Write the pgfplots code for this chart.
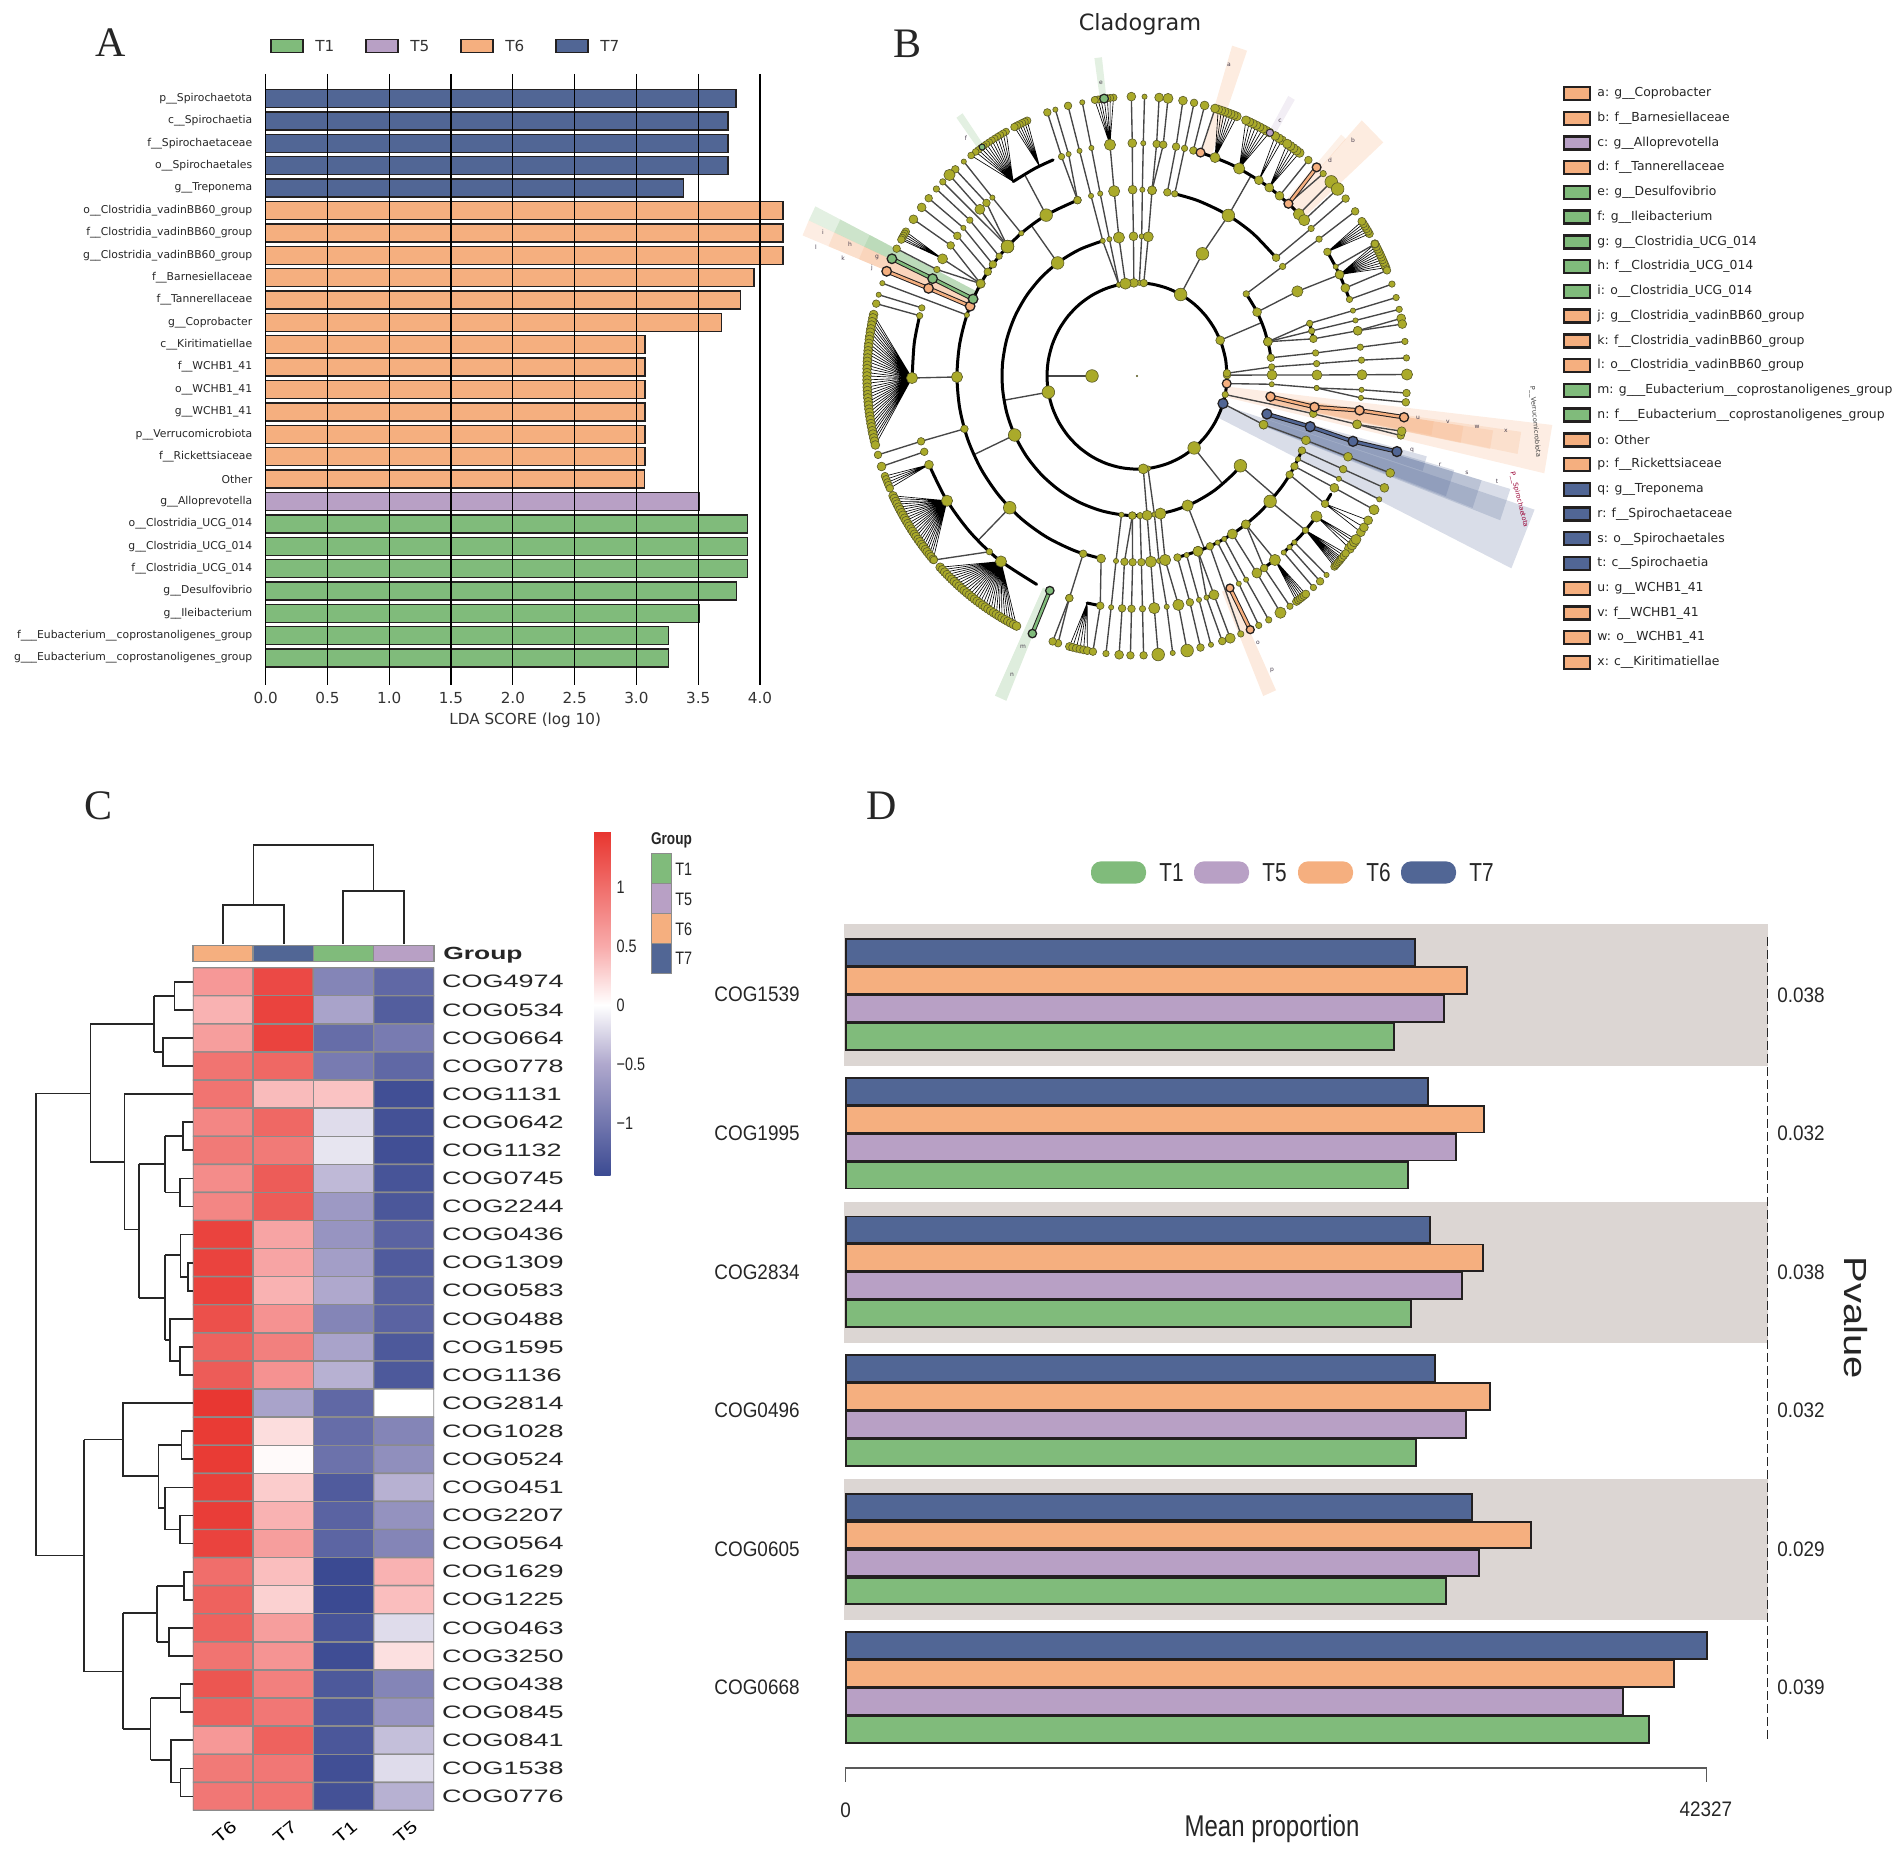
\documentclass[border=0pt]{standalone}
\usepackage{pgfplots}
\pgfplotsset{compat=1.18}
\usepackage{pgfplotstable}
\usepackage{fontspec}
\setmainfont{Liberation Sans}
\newfontfamily\djv{DejaVu Sans}
\newfontfamily\ser{Liberation Serif}
\newfontfamily\cnd[FakeStretch=0.9]{Liberation Sans}
\newfontfamily\nrw[FakeStretch=0.8]{Liberation Sans}
\newfontfamily\wid[FakeStretch=1.5]{Liberation Sans}
\newfontfamily\pvf[FakeStretch=1.25]{Liberation Sans}
\newcommand\fs[1]{\fontsize{#1}{#1}\selectfont}

\definecolor{tone}{RGB}{128,187,123}
\definecolor{tfive}{RGB}{184,160,197}
\definecolor{tsix}{RGB}{245,175,127}
\definecolor{tseven}{RGB}{81,102,149}
\definecolor{band}{RGB}{220,214,211}
\definecolor{oliv}{RGB}{170,170,42}
\definecolor{olivd}{RGB}{90,90,40}
\definecolor{edge}{RGB}{35,32,32}
\definecolor{cellb}{RGB}{140,140,140}

% the cladogram is read in polar form: angle, radius in pixels
\pgfplotsset{
/pgfplots/table/pol/.style={/pgfplots/table/header=false,/pgfplots/table/row sep=\\},
nodemark/.style={only marks,mark=*,mark options={fill=oliv,draw=olivd,line width=0.3pt}},
}
% one fan: parent angle, leaf mark size, leaf angles
\newcommand\fan[3]{%
\gdef\fanrows{}\gdef\fanleaf{}%
\foreach \lf in {#3}{%
 \xdef\fanrows{\unexpanded\expandafter{\fanrows}#1 225\noexpand\\\lf\space 270\noexpand\\}%
 \xdef\fanleaf{\unexpanded\expandafter{\fanleaf}\lf\space 270\noexpand\\}}%
\edef\fantmp{\noexpand\addplot[draw=black,line width=0.32pt] table[pol]{\unexpanded\expandafter{\fanrows}};}\fantmp
\edef\fantmp{\noexpand\addplot[nodemark,mark size=#2pt] table[pol]{\unexpanded\expandafter{\fanleaf}};}\fantmp
}
\newcommand\wdg[6][0.22]{
\addplot[fill=#2,fill opacity=#1,draw=none] table[pol]{#3 #5\\#3 #6\\#4 #6\\#4 #5\\} -- cycle;
}
\newcommand\rim[1]{\addplot[draw=black,line width=1.5pt,smooth,line cap=round] table[pol]{#1};}
\newcommand\dl[1]{\addplot[draw=black!85,line width=0.85pt] coordinates {#1};}
% highlighted branch: colour, mark size, rows
\newcommand\hl[3]{
\addplot[draw=edge,line width=2.2pt] table[pol]{#3};
\addplot[draw=#1,line width=1.2pt] table[pol]{#3};
\addplot[only marks,mark=*,mark size=#2pt,mark options={fill=#1,draw=edge,line width=0.65pt}] table[pol]{#3};
}

% the tree: each \ch is one branch, angle radius marksize
\newcommand\chains{
\ch{85.7 90 2.0\\85.2 135 2.5\\85.2 180 2.3\\85 225 2.0\\85.3 270 2.3\\}
\ch{85.2 180 2.3\\83.3 225 2.0\\83.4 270 2.4\\}
\ch{88.5 90 1.4\\88 135 1.3\\88.3 180 1.3\\88.4 225 1.3\\88.4 270 1.4\\}
\ch{92 90 2.3\\91.5 135 2.3\\91.4 180 2.3\\91.2 225 2.3\\91.2 270 2.3\\}
\ch{94 90 1.5\\}
\ch{97.4 90 2.8\\97.7 135 2.8\\97.3 180 2.8\\96.9 225 2.8\\}
\ch{101.6 90 1.3\\101.8 135 1.4\\101.8 180 1.4\\101.7 225 1.3\\101.7 270 1.4\\}
\ch{101.6 90 1.3\\104.7 135 1.3\\104.8 180 1.4\\104.8 225 1.3\\104.8 270 1.9\\}
\ch{109.3 180 1.8\\109.6 225 1.6\\109.4 270 1.9\\}
\ch{109.3 180 1.8\\107.7 225 1.3\\107.6 270 1.4\\}
\ch{126 135 3.0\\126 180 0\\}
\ch{120.3 180 3.0\\120 225 0\\}
\ch{130 180 1.3\\130 225 1.4\\129.9 270 1.4\\}
\ch{136 180 3.0\\134.3 225 2.4\\134 270 2.7\\}
\ch{136 180 3.0\\132 225 2.0\\132.3 270 2.0\\}
\ch{136 180 3.0\\136 270 1.7\\}
\ch{140 180 1.7\\138 225 1.7\\138 270 1.7\\}
\ch{143.2 180 1.9\\140.5 225 1.4\\140.5 270 1.8\\}
\ch{146 180 1.9\\143 225 2.0\\142.9 270 2.2\\}
\ch{150.3 180 2.3\\145.9 225 1.9\\145.9 270 2.2\\}
\ch{150.3 180 2.3\\149.8 225 2.5\\}
\ch{150.3 180 2.3\\152.8 225 1.5\\152.9 270 1.8\\}
\ch{160.9 180 1.3\\160.6 270 1.4\\}
\ch{165 225 1.5\\165 270 1.9\\}
\ch{163 225 1.5\\163.1 270 1.4\\}
\ch{180 45 3.3\\180 90 0\\}
\ch{90 0 0.35\\}
\ch{190 90 3.1\\190 135 0\\}
\ch{180.3 180 2.9\\180.5 225 2.7\\}
\ch{205 135 3.1\\205 180 0\\}
\ch{225 180 3.1\\225 225 0\\}
\ch{196.5 180 1.9\\196.3 225 1.9\\196.4 270 1.9\\}
\ch{199 225 2.0\\198.9 270 2.1\\}
\ch{202.4 225 2.1\\}
\ch{212.4 225 2.8\\}
\ch{229 225 1.6\\221.2 270 1.9\\}
\ch{232.8 225 2.8\\}
\ch{252.6 180 1.8\\252.5 225 2.0\\253 270 2.0\\}
\ch{252.5 225 2.0\\251.8 270 2.0\\}
\ch{258.5 180 2.2\\260.6 225 2.0\\260.6 270 2.0\\}
\ch{263.4 135 1.3\\263.3 180 1.3\\263.4 225 1.3\\263.4 270 1.7\\}
\ch{268 135 2.0\\266 180 2.0\\266.2 225 2.0\\266.2 270 2.3\\}
\ch{268 135 2.0\\268.6 180 1.8\\268.6 225 1.8\\268.6 270 2.0\\}
\ch{271.3 135 1.5\\271.4 180 1.8\\271.4 225 1.6\\271.4 270 2.0\\}
\ch{274 90 2.4\\274.3 135 2.6\\274.4 180 2.8\\274.4 225 2.8\\274.5 270 3.1\\}
\ch{277 90 1.4\\277.4 135 1.3\\277 180 1.3\\277.6 225 1.3\\277.6 270 1.4\\}
\ch{280 135 2.8\\279 180 2.8\\280.6 225 2.8\\280.7 270 3.1\\}
\ch{283 180 1.8\\283.6 225 1.8\\283.6 270 2.0\\}
\ch{286 180 1.3\\286 225 1.3\\285.9 270 1.4\\}
\ch{289.8 180 2.4\\288 225 1.4\\288.4 270 1.9\\}
\ch{289.8 180 2.4\\290 225 2.4\\290.2 270 2.6\\}
\ch{293.9 180 2.0\\292.6 270 1.7\\}
\ch{296.6 180 1.4\\296.9 225 1.3\\296.8 270 1.6\\}
\ch{299 180 1.4\\299 225 1.3\\299.2 270 1.6\\}
\ch{302 180 2.4\\302.2 225 2.6\\302.1 270 2.7\\}
\ch{307.2 180 2.2\\304.4 225 1.8\\304.5 270 1.7\\}
\ch{307.2 180 2.2\\307.8 225 2.7\\}
\ch{310.7 225 1.3\\310.8 270 1.5\\}
\ch{312.7 225 1.4\\312.7 270 2.0\\}
\ch{314.4 225 1.3\\314.6 270 1.4\\}
\ch{292 135 2.8\\292 180 0\\}
\ch{309.4 90 3.1\\309.4 135 0\\}
\ch{320 135 3.1\\320 180 0\\}
\ch{317.7 180 3.0\\318.5 225 1.5\\}
\ch{322.9 225 2.8\\}
\ch{328 180 2.0\\326.7 225 2.0\\}
\ch{331 180 1.9\\331.3 225 2.1\\331.4 270 2.4\\}
\ch{333.5 180 1.3\\333.8 225 1.3\\333.8 270 1.4\\}
\ch{336.4 180 2.0\\336.4 225 2.0\\336.4 270 2.3\\}
\ch{339.6 135 2.1\\339.8 180 2.2\\339.7 225 2.2\\339.7 270 2.3\\}
\ch{342.8 90 0\\339.6 135 2.1\\}
\ch{348.5 90 1.5\\348.5 135 0\\348.3 180 2.0\\348 225 2.1\\348.6 270 2.2\\}
\ch{348 225 2.1\\347.7 270 1.8\\}
\ch{355.3 90 0\\356.6 135 1.3\\356.3 180 1.3\\356.6 225 1.3\\356.5 270 1.8\\}
\ch{356.3 180 1.3\\354.6 225 1.3\\354.6 270 1.8\\}
\ch{0.5 90 2.0\\0.4 135 2.4\\0.3 180 2.4\\0.3 225 2.4\\0.3 270 2.8\\}
\ch{1.7 90 2.0\\3.7 135 1.7\\3.8 180 1.6\\3.9 225 1.6\\3.7 270 1.7\\}
\ch{7.5 135 1.8\\7.1 180 1.5\\7.1 225 1.6\\7.1 270 1.7\\}
\ch{14.2 135 2.2\\16.4 180 1.5\\16.3 225 1.4\\16.3 270 1.6\\}
\ch{14.2 135 2.2\\14 180 1.5\\13.8 225 1.4\\13.8 270 1.6\\}
\ch{14.2 135 2.2\\11.5 180 2.0\\11.2 225 2.2\\11.9 270 2.3\\}
\ch{11.2 225 2.2\\10.7 270 2.3\\}
\ch{22.5 90 2.3\\22.5 135 0\\}
\ch{27.2 135 2.3\\27 180 2.7\\25.8 225 2.2\\}
\ch{36 135 1.5\\36 180 1.5\\36 225 1.5\\36.1 270 1.8\\}
\ch{39.4 180 1.8\\39.3 225 1.5\\39.4 270 1.9\\}
\ch{61 90 3.2\\61 135 3.2\\59.5 180 3.1\\59.5 225 0\\}
\ch{80.3 180 1.9\\80 225 1.9\\80.2 270 2.1\\}
\ch{77.9 180 1.6\\77.8 225 1.6\\77.8 270 1.8\\}
\ch{75.5 225 1.8\\75.5 270 2.2\\}
\ch{73.6 225 2.0\\73.2 270 2.2\\}
\ch{69.7 225 2.6\\}
\ch{63 225 2.7\\}
\ch{57.2 225 2.3\\}
\ch{54 225 2.3\\}
\ch{50.7 225 2.1\\50.6 270 2.0\\}
\ch{47.7 225 2.2\\46.4 270 1.5\\}
\ch{44 225 2.8\\44 270 3.0\\}
\ch{42 225 2.8\\42 270 3.1\\}
\ch{32.2 225 1.9\\}
\ch{28 225 1.4\\28.2 270 1.8\\}
\ch{25.8 225 2.1\\}
\ch{22.2 225 2.1\\22.2 270 1.8\\}
\ch{19.2 225 1.5\\19.2 270 1.7\\}
}
% sort the rows of the branches into lists by mark size
\def\addrow#1#2{\expandafter\addrowb\csname rows#1\endcsname{#2}}
\def\addrowb#1#2{\xdef#1{\unexpanded\expandafter{#1}#2\noexpand\\}}
\def\classify#1#2{%
 \ifdim#1pt<0.2pt \else\ifdim#1pt<0.9pt \addrow{a}{#2}\else\ifdim#1pt<1.45pt \addrow{b}{#2}\else
 \ifdim#1pt<1.75pt \addrow{c}{#2}\else\ifdim#1pt<2.05pt \addrow{d}{#2}\else\ifdim#1pt<2.35pt \addrow{e}{#2}\else
 \ifdim#1pt<2.65pt \addrow{f}{#2}\else\ifdim#1pt<2.95pt \addrow{g}{#2}\else \addrow{h}{#2}\fi\fi\fi\fi\fi\fi\fi\fi}
\def\rowscan#1 #2 #3\\#4\end{\classify{#3}{#1 #2}\if\relax\detokenize{#4}\relax\else\rowscan#4\end\fi}
\gdef\rowsa{}\gdef\rowsb{}\gdef\rowsc{}\gdef\rowsd{}\gdef\rowse{}\gdef\rowsf{}\gdef\rowsg{}\gdef\rowsh{}
\def\ch#1{\rowscan#1\end}
\chains
\def\nodeset#1#2{\expandafter\nodesetb\csname rows#1\endcsname{#2}}
\def\nodesetb#1#2{\edef\nodetmp{\noexpand\addplot[nodemark,mark size=#2pt] table[pol]{\unexpanded\expandafter{#1}};}\nodetmp}

\begin{document}
\begin{tikzpicture}
\path[use as bounding box] (0,0) rectangle (951pt,927.5pt);

% ---------- A: LDA bars
\begin{axis}[
  at={(132.85pt,585pt)},anchor=south west,scale only axis,
  width=259.5pt,height=305.5pt,
  xmin=0,xmax=4.2,ymin=-1.1,ymax=26.2,y dir=reverse,
  axis on top,axis line style={draw=none},
  xtick={0,0.5,1,1.5,2,2.5,3,3.5,4},
  xticklabels={0.0,0.5,1.0,1.5,2.0,2.5,3.0,3.5,4.0},
  xmajorgrids,grid style={draw=black,line width=0.65pt},
  major tick length=0pt,
  xticklabel style={font=\djv\fs{7.6},text=black!80},xtick pos=bottom,
  xlabel={LDA SCORE (log 10)},xlabel style={font=\djv\fs{7.6},text=black!80,yshift=2pt},
  ytick={0,...,25},ytick pos=left,
  yticklabels={p\_\_Spirochaetota,c\_\_Spirochaetia,f\_\_Spirochaetaceae,o\_\_Spirochaetales,g\_\_Treponema,
   o\_\_Clostridia\_vadinBB60\_group,f\_\_Clostridia\_vadinBB60\_group,g\_\_Clostridia\_vadinBB60\_group,
   f\_\_Barnesiellaceae,f\_\_Tannerellaceae,g\_\_Coprobacter,c\_\_Kiritimatiellae,f\_\_WCHB1\_41,o\_\_WCHB1\_41,g\_\_WCHB1\_41,
   p\_\_Verrucomicrobiota,f\_\_Rickettsiaceae,Other,g\_\_Alloprevotella,o\_\_Clostridia\_UCG\_014,g\_\_Clostridia\_UCG\_014,
   f\_\_Clostridia\_UCG\_014,g\_\_Desulfovibrio,g\_\_Ileibacterium,f\_\_\_Eubacterium\_\_coprostanoligenes\_group,g\_\_\_Eubacterium\_\_coprostanoligenes\_group},
  yticklabel style={font=\djv\fs{5.4},text=black!85},
  yticklabel shift=3.2pt,
]
\addplot[xbar,bar width=9pt,bar shift=0pt,fill=tseven,draw=edge,line width=0.7pt] coordinates {
 (3.805,0)(3.74,1)(3.74,2)(3.74,3)(3.38,4)};
\addplot[xbar,bar width=9pt,bar shift=0pt,fill=tsix,draw=edge,line width=0.7pt] coordinates {
 (4.186,5)(4.186,6)(4.186,7)(3.95,8)(3.84,9)(3.69,10)(3.07,11)(3.07,12)(3.07,13)(3.07,14)(3.07,15)(3.07,16)(3.065,17)};
\addplot[xbar,bar width=9pt,bar shift=0pt,fill=tfive,draw=edge,line width=0.7pt] coordinates {(3.51,18)};
\addplot[xbar,bar width=9pt,bar shift=0pt,fill=tone,draw=edge,line width=0.7pt] coordinates {
 (3.90,19)(3.90,20)(3.90,21)(3.81,22)(3.51,23)(3.26,24)(3.26,25)};
\end{axis}

% ---------- B: cladogram (1 data unit = 1 px across, 1.035 px down: the reference is stretched)
\begin{axis}[
  at={(400pt,577.5pt)},anchor=south west,scale only axis,width=380pt,height=330pt,
  xmin=-337,xmax=423,ymin=-313.04,ymax=324.64,hide axis,clip=false,
  xtick=\empty,ytick=\empty,data cs=polar,
]
% shaded clades
\wdg{tsix}{347}{353.5}{90}{418}
\wdg{tsix}{348.8}{352}{135}{388}
\wdg{tsix}{348.7}{351.6}{135}{360}
\wdg{tsix}{348.7}{351.6}{135}{330}
\wdg{tsix}{349}{351.6}{135}{300}
\wdg{tseven}{333.6}{342}{90}{418}
\wdg{tseven}{339}{343.7}{135}{389}
\wdg{tseven}{339.2}{343.7}{135}{359}
\wdg{tseven}{339.4}{344}{135}{330}
\wdg{tseven}{342.2}{345}{135}{300}
\wdg{tone}{153}{155.4}{180}{361}
\wdg{tone}{153}{155.4}{180}{333}
\wdg{tone}{153}{155.4}{180}{300}
\wdg{tsix}{155.4}{157.9}{180}{361}
\wdg{tsix}{155.4}{157.9}{180}{333}
\wdg{tsix}{155.4}{157.9}{180}{300}
\wdg[0.22]{tone}{96.5}{97.9}{270}{310}
\wdg[0.22]{tone}{124.5}{125.9}{270}{308}
\wdg[0.24]{tsix}{70.7}{73.4}{225}{333}
\wdg[0.18]{tfive}{59.4}{60.8}{270}{310}
\wdg[0.24]{tsix}{42.5}{47.7}{225}{334}
\wdg[0.18]{tsix}{47.6}{48.8}{225}{310}
\wdg[0.26]{tsix}{292.2}{294.6}{225}{334}
\wdg[0.26]{tone}{245.3}{247.4}{225}{340}
% thin branches
\def\ch#1{\addplot[draw=black!72,line width=0.68pt] table[pol]{#1};}
\chains
% thick arcs
\rim{0 90\\10 90\\20 90\\30 90\\40 90\\50 90\\60 90\\70 90\\80 90\\90 90\\100 90\\110 90\\120 90\\130 90\\140 90\\150 90\\160 90\\170 90\\180 90\\190 90\\200 90\\210 90\\220 90\\230 90\\240 90\\250 90\\260 90\\270 90\\280 90\\290 90\\300 90\\310 90\\320 90\\330 90\\340 90\\350 90\\360 90\\}
\rim{104.7 135\\115 135\\125 135\\135 135\\145 135\\155 135\\165 135\\175 135\\185 135\\195 135\\205 135\\215 135\\225 135\\235 135\\245 135\\255 135\\265 135\\275 135\\285 135\\295 135\\305 135\\315 135\\320 135\\}
\rim{36 135\\28 135\\20 135\\12 135\\7.5 135\\}
\rim{109.3 180\\120 180\\130 180\\140 180\\150 180\\160 180\\170 180\\180 180\\190 180\\200 180\\210 180\\220 180\\230 180\\240 180\\250 180\\258.5 180\\}
\rim{39.4 180\\50 180\\60 180\\70 180\\77.9 180\\}
\rim{16.4 180\\11.5 180\\}
\rim{283 180\\293 180\\303 180\\313 180\\323 180\\330 180\\337 180\\}
\rim{73.6 225\\65 225\\55 225\\47 225\\42 225\\}
\rim{32.2 225\\26 225\\19.2 225\\}
\rim{123.4 225\\117 225\\111.9 225\\}
\rim{165 225\\172 225\\181 225\\}
\rim{202.4 225\\212 225\\222 225\\232 225\\243.5 225\\}
\rim{257.2 225\\260.6 225\\}
\rim{288 225\\290 225\\}
\rim{302 225\\308 225\\}
\rim{310.7 225\\317 225\\323 225\\}
\rim{326.7 225\\329.5 225\\}
% fans of leaves
\fan{180.5}{2.2}{167.3,168,168.8,169.5,170.3,171,171.8,172.5,173.3,174,174.8,175.5,176.3,177,177.8,178.5,179.3,180,180.8,181.5,182.3,183,183.8,184.5,185.3,186,186.8,187.5,188.3,189,189.8,190.5,191.3,192,192.8,193.5,194.3}
\fan{212.4}{2.2}{205.4,206,206.7,207.3,208,208.6,209.3,209.9,210.6,211.2,211.9,212.5,213.2,213.8,214.5,215.1,215.8,216.4,217.1,217.7,218.4,219,219.7,220.3,221}
\fan{232.8}{2.2}{223.2,223.9,224.6,225.3,226,226.7,227.4,228.1,228.8,229.5,230.2,230.9,231.6,232.3,233,233.7,234.4,235.1,235.8,236.5,237.2,237.9,238.6,239.3,240,240.7,241.4,242.1,242.8,243.5}
\fan{202.4}{1.9}{201,201.7,202.4,203,203.7}
\fan{123.4}{1.7}{119,119.7,120.4,121.1,121.8,122.5,123.2,123.9,124.6,125.3,126,126.7,127.9}
\fan{115.7}{1.9}{114,114.6,115.2,115.8,116.4,117}
\fan{149.8}{1.9}{148.9,149.4,149.9,150.4,150.8}
\fan{96.9}{1.8}{95,95.7,96.3,97,97.7,98.3,99}
\fan{69.7}{2.2}{68.3,69,69.7,70.4,71.1,71.8,72.5}
\fan{63}{2.2}{60.6,61.4,62.2,63,63.8,64.6,65.4,66.2}
\fan{57.2}{2.2}{57.5,58.3,59.2}
\fan{54}{2.3}{53,53.8,54.6,55.4,56.2}
\fan{32.2}{2}{30.6,31.2,31.8,32.4,33,33.6}
\fan{25.8}{2.1}{22.8,23.4,24,24.6,25.2,25.8,26.4,27,27.6,28.2}
\fan{326.7}{2.2}{326,327.2,328.9}
\fan{322.9}{2.5}{321.9,322.8,323.6,324.2}
\fan{318.5}{1.9}{317,317.4,317.8,318.2,318.6,319,319.4,320,320.6}
\fan{307.8}{2}{306.2,306.7,307.2,307.7,308.2,308.7}
\fan{257.2}{2}{255.5,256.2,257,257.8,258.6,259.4}
% nodes of the tree, by size class
\nodeset{a}{0.35}
\nodeset{b}{1.3}
\nodeset{c}{1.6}
\nodeset{d}{1.9}
\nodeset{e}{2.2}
\nodeset{f}{2.5}
\nodeset{g}{2.8}
\nodeset{h}{3.15}
% clades that differ
\hl{tsix}{2.4}{158 180\\157.9 225\\158 270\\}
\hl{tone}{2.4}{155.6 180\\155.3 225\\155.2 270\\}
\hl{tsix}{2.3}{351.5 135\\350.4 180\\351.5 225\\351.5 270\\}
\hl{tseven}{2.5}{344.2 135\\344.2 180\\343.7 225\\344.3 270\\}
\hl{tsix}{2.2}{47.7 225\\48.3 270\\}
\hl{tone}{2.1}{247.2 225\\247.2 270\\}
\hl{tsix}{2.0}{294.4 225\\294.8 270\\}
\addplot[only marks,mark=*,mark size=2.2pt,mark options={fill=tsix,draw=edge,line width=0.6pt}] table[pol] {355.3 90\\73.6 225\\};
\addplot[only marks,mark=*,mark size=2.5pt,mark options={fill=tseven,draw=edge,line width=0.6pt}] table[pol] {342.8 90\\};
\addplot[only marks,mark=*,mark size=2.2pt,mark options={fill=tone,draw=edge,line width=0.6pt}] table[pol] {97 270\\};
\addplot[only marks,mark=*,mark size=1.5pt,mark options={fill=tone,draw=edge,line width=0.5pt}] table[pol] {125 270\\};
\addplot[only marks,mark=*,mark size=1.8pt,mark options={fill=tfive,draw=edge,line width=0.4pt}] table[pol] {60.5 270\\};
\end{axis}

% ---------- C: heatmap
\begin{axis}[
  at={(96.4pt,22.3pt)},anchor=south west,scale only axis,width=120.6pt,height=421.35pt,
  xmin=-0.5,xmax=3.5,ymin=-0.5,ymax=29.5,y dir=reverse,
  axis line style={draw=none},major tick length=0pt,
  colormap={hm}{rgb255(0cm)=(59,74,146);rgb255(0.95cm)=(175,168,205);rgb255(1.45cm)=(255,255,255);rgb255(1.95cm)=(248,170,170);rgb255(2.92cm)=(232,53,47)},
  point meta min=-1.45,point meta max=1.47,
  xtick={0,1,2,3},xticklabels={T6,T7,T1,T5},xtick pos=bottom,
  xticklabel style={font=\pvf\fs{8.5},rotate=40,anchor=center,xshift=-6.5pt,yshift=-9pt},
  ytick={0,...,29},yticklabel pos=right,
  yticklabels={COG4974,COG0534,COG0664,COG0778,COG1131,COG0642,COG1132,COG0745,COG2244,COG0436,COG1309,COG0583,COG0488,COG1595,COG1136,COG2814,COG1028,COG0524,COG0451,COG2207,COG0564,COG1629,COG1225,COG0463,COG3250,COG0438,COG0845,COG0841,COG1538,COG0776},
  yticklabel style={font=\wid\fs{9},text=black!85,anchor=west,xshift=0.5pt},
  colorbar,
  colorbar style={at={(1.666,1.1615)},anchor=north west,width=8pt,height=172.2pt,
    axis line style={draw=none},major tick length=0pt,
    ytick={-1,-0.5,0,0.5,1},yticklabels={−1,−0.5,0,0.5,1},yticklabel pos=right,
    yticklabel style={font=\nrw\fs{9},text=black!85,xshift=-0.5pt}},
]
\addplot[matrix plot*,mesh/cols=4,point meta=explicit,draw=cellb,line width=0.7pt] coordinates {
(0,0)[0.65](1,0)[1.3](2,0)[-0.85](3,0)[-1.15]
(0,1)[0.45](1,1)[1.35](2,1)[-0.55](3,1)[-1.25]
(0,2)[0.6](1,2)[1.35](2,2)[-1.1](3,2)[-0.95]
(0,3)[0.95](1,3)[1.05](2,3)[-0.95](3,3)[-1.15]
(0,4)[0.95](1,4)[0.4](2,4)[0.35](3,4)[-1.4]
(0,5)[0.8](1,5)[1.05](2,5)[-0.2](3,5)[-1.38]
(0,6)[0.9](1,6)[0.9](2,6)[-0.15](3,6)[-1.4]
(0,7)[0.75](1,7)[1.15](2,7)[-0.4](3,7)[-1.35]
(0,8)[0.8](1,8)[1.15](2,8)[-0.65](3,8)[-1.32]
(0,9)[1.35](1,9)[0.55](2,9)[-0.7](3,9)[-1.2]
(0,10)[1.35](1,10)[0.55](2,10)[-0.6](3,10)[-1.28]
(0,11)[1.35](1,11)[0.45](2,11)[-0.5](3,11)[-1.22]
(0,12)[1.25](1,12)[0.7](2,12)[-0.85](3,12)[-1.2]
(0,13)[1.1](1,13)[0.85](2,13)[-0.55](3,13)[-1.3]
(0,14)[1.15](1,14)[0.7](2,14)[-0.45](3,14)[-1.3]
(0,15)[1.45](1,15)[-0.55](2,15)[-1.15](3,15)[0]
(0,16)[1.42](1,16)[0.2](2,16)[-1.1](3,16)[-0.85]
(0,17)[1.42](1,17)[0.03](2,17)[-1.05](3,17)[-0.75]
(0,18)[1.38](1,18)[0.3](2,18)[-1.28](3,18)[-0.45]
(0,19)[1.4](1,19)[0.45](2,19)[-1.2](3,19)[-0.72]
(0,20)[1.35](1,20)[0.6](2,20)[-1.18](3,20)[-0.85]
(0,21)[1.0](1,21)[0.38](2,21)[-1.45](3,21)[0.45]
(0,22)[1.1](1,22)[0.27](2,22)[-1.45](3,22)[0.38]
(0,23)[1.1](1,23)[0.6](2,23)[-1.35](3,23)[-0.2]
(0,24)[0.95](1,24)[0.68](2,24)[-1.42](3,24)[0.18]
(0,25)[1.2](1,25)[0.85](2,25)[-1.3](3,25)[-0.85]
(0,26)[1.1](1,26)[0.92](2,26)[-1.3](3,26)[-0.7]
(0,27)[0.65](1,27)[1.1](2,27)[-1.32](3,27)[-0.37]
(0,28)[0.9](1,28)[0.92](2,28)[-1.4](3,28)[-0.2]
(0,29)[0.92](1,29)[0.95](2,29)[-1.38](3,29)[-0.45]
};
\end{axis}

% ---------- D: mean proportion
\begin{axis}[
  at={(422.8pt,56.65pt)},anchor=south west,scale only axis,width=461.15pt,height=409.85pt,
  xmin=0,xmax=45340,ymin=-0.39,ymax=5.524,clip=false,
  axis line style={draw=none},major tick length=0pt,xtick=\empty,
  ytick={0,...,5},ytick pos=left,
  yticklabels={COG0668,COG0605,COG0496,COG2834,COG1995,COG1539},
  yticklabel style={font=\cnd\fs{10.5},text=black!85},yticklabel shift=19.5pt,
]
\addplot[fill=band,draw=none] coordinates {(-60,5.513)(45340,5.513)(45340,4.488)(-60,4.488)} -- cycle;
\addplot[fill=band,draw=none] coordinates {(-60,3.506)(45340,3.506)(45340,2.489)(-60,2.489)} -- cycle;
\addplot[fill=band,draw=none] coordinates {(-60,1.507)(45340,1.507)(45340,0.49)(-60,0.49)} -- cycle;
\addplot[xbar,bar width=13.3pt,bar shift=21pt,fill=tseven,draw=edge,line width=0.9pt] coordinates {
 (28004,5)(28644,4)(28720,3)(28984,2)(30793,1)(42327,0)};
\addplot[xbar,bar width=13.3pt,bar shift=7pt,fill=tsix,draw=edge,line width=0.9pt] coordinates {
 (30529,5)(31396,4)(31320,3)(31697,2)(33695,1)(40705,0)};
\addplot[xbar,bar width=13.3pt,bar shift=-7pt,fill=tfive,draw=edge,line width=0.9pt] coordinates {
 (29398,5)(30001,4)(30303,3)(30491,2)(31132,1)(38218,0)};
\addplot[xbar,bar width=13.3pt,bar shift=-21pt,fill=tone,draw=edge,line width=0.9pt] coordinates {
 (26949,5)(27664,4)(27778,3)(28041,2)(29511,1)(39499,0)};
\addplot[draw=black!85,line width=0.55pt,dash pattern=on 4.5pt off 2pt] coordinates {(45340,5.416)(45340,-0.39)};
\end{axis}

% ---------- dendrograms, group strip and the scale of D, in picture pixels
\begin{axis}[
  at={(0pt,0pt)},anchor=south west,scale only axis,width=951pt,height=927.5pt,
  xmin=0,xmax=1902,ymin=0,ymax=1855,y dir=reverse,hide axis,clip=false,
  xtick=\empty,ytick=\empty,
]
% group strip
\addplot[fill=tsix,draw=cellb,line width=0.7pt] coordinates {(192.8,945.3)(253.1,945.3)(253.1,961.8)(192.8,961.8)} -- cycle;
\addplot[fill=tseven,draw=cellb,line width=0.7pt] coordinates {(253.1,945.3)(313.4,945.3)(313.4,961.8)(253.1,961.8)} -- cycle;
\addplot[fill=tone,draw=cellb,line width=0.7pt] coordinates {(313.4,945.3)(373.7,945.3)(373.7,961.8)(313.4,961.8)} -- cycle;
\addplot[fill=tfive,draw=cellb,line width=0.7pt] coordinates {(373.7,945.3)(434,945.3)(434,961.8)(373.7,961.8)} -- cycle;
% group key
\addplot[fill=tone,draw=cellb,line width=0.5pt] coordinates {(651,854)(671,854)(671,884)(651,884)} -- cycle;
\addplot[fill=tfive,draw=cellb,line width=0.5pt] coordinates {(651,884)(671,884)(671,914)(651,914)} -- cycle;
\addplot[fill=tsix,draw=cellb,line width=0.5pt] coordinates {(651,914)(671,914)(671,944)(651,944)} -- cycle;
\addplot[fill=tseven,draw=cellb,line width=0.5pt] coordinates {(651,944)(671,944)(671,973.5)(651,973.5)} -- cycle;
% column tree
\dl{(223,943.9)(223,904.7)(283.8,904.7)(283.8,943.9)}
\dl{(343,943.9)(343,890.9)(404,890.9)(404,943.9)}
\dl{(253.4,904.7)(253.4,844.7)(373.5,844.7)(373.5,890.9)}
% row tree
\dl{(90.4,1023.8)(90.4,1162)} \dl{(90.4,1093.4)(35.8,1093.4)(35.8,1555.5)(84,1555.5)}
\dl{(90.4,1023.8)(153.8,1023.8)} \dl{(153.8,995.8)(153.8,1052)}
\dl{(153.8,995.8)(174.5,995.8)} \dl{(193,981.7)(174.5,981.7)(174.5,1009.8)(193,1009.8)}
\dl{(153.8,1052)(163,1052)} \dl{(193,1037.9)(163,1037.9)(163,1066)(193,1066)}
\dl{(90.4,1162)(124.4,1162)} \dl{(193,1094.1)(124.4,1094.1)(124.4,1229.4)(138.7,1229.4)}
\dl{(138.7,1164)(138.7,1298.2)} \dl{(138.7,1164)(165.3,1164)} \dl{(165.3,1136)(165.3,1192.5)}
\dl{(165.3,1136)(182.7,1136)} \dl{(193,1122.2)(182.7,1122.2)(182.7,1150.3)(193,1150.3)}
\dl{(165.3,1192.5)(180,1192.5)} \dl{(193,1178.4)(180,1178.4)(180,1206.5)(193,1206.5)}
\dl{(138.7,1298.2)(165.3,1298.2)} \dl{(165.3,1255)(165.3,1340)}
\dl{(165.3,1255)(180.4,1255)} \dl{(193,1234.6)(180.4,1234.6)(180.4,1276.8)(188,1276.8)}
\dl{(193,1262.7)(188,1262.7)(188,1290.8)(193,1290.8)}
\dl{(165.3,1340)(170,1340)} \dl{(193,1318.9)(170,1318.9)(170,1361)(180,1361)}
\dl{(193,1347)(180,1347)(180,1375)(193,1375)}
\dl{(84,1439.5)(84,1671.5)} \dl{(84,1439.5)(123,1439.5)} \dl{(193,1403.1)(123,1403.1)(123,1476.3)(158.4,1476.3)}
\dl{(158.4,1445)(158.4,1507.7)} \dl{(158.4,1445)(181.4,1445)} \dl{(193,1431.2)(181.4,1431.2)(181.4,1459.3)(193,1459.3)}
\dl{(158.4,1507.7)(165.3,1507.7)} \dl{(193,1487.4)(165.3,1487.4)(165.3,1529.5)(180,1529.5)}
\dl{(193,1515.5)(180,1515.5)(180,1543.6)(193,1543.6)}
\dl{(84,1671.5)(123,1671.5)} \dl{(123,1612.8)(123,1728.9)}
\dl{(123,1612.8)(157,1612.8)} \dl{(157,1585.8)(157,1642)}
\dl{(157,1585.8)(183.7,1585.8)} \dl{(193,1571.7)(183.7,1571.7)(183.7,1599.8)(193,1599.8)}
\dl{(157,1642)(169,1642)} \dl{(193,1627.9)(169,1627.9)(169,1656)(193,1656)}
\dl{(123,1728.9)(150.6,1728.9)} \dl{(150.6,1698)(150.6,1760.3)}
\dl{(150.6,1698)(180.4,1698)} \dl{(193,1684.1)(180.4,1684.1)(180.4,1712.2)(193,1712.2)}
\dl{(150.6,1760.3)(170.8,1760.3)} \dl{(193,1740.3)(170.8,1740.3)(170.8,1782.4)(180.4,1782.4)}
\dl{(193,1768.4)(180.4,1768.4)(180.4,1796.5)(193,1796.5)}
% scale of D
\addplot[draw=black!65,line width=0.8pt] coordinates {(845.6,1781.7)(845.6,1767.7)(1706.5,1767.7)(1706.5,1781.7)};
\end{axis}

% ---------- text and legends, in picture pixels (y down)
\begin{scope}[shift={(0pt,927.5pt)},x=0.5pt,y=-0.5pt]
\node[font=\ser\fs{21},text=black!85] at (111,43) {A};
\node[font=\ser\fs{21},text=black!85] at (907,44) {B};
\node[font=\ser\fs{21},text=black!85] at (99,806) {C};
\node[font=\ser\fs{21},text=black!85] at (882,806) {D};
\node[font=\djv\fs{11.2},text=black!85] at (1140,24) {Cladogram};

% A legend
\foreach \xa/\c/\t in {271/tone/T1,366/tfive/T5,461/tsix/T6,556/tseven/T7}{
  \draw[fill=\c,draw=edge,line width=0.7pt] (\xa,39.5) rectangle ++(32,13);
  \node[font=\djv\fs{7.6},text=black!80,anchor=west,inner sep=0pt] at (\xa+44,46) {\t};
}
% B legend
\foreach \i/\c/\t in {0/tsix/a: g\_\_Coprobacter,1/tsix/b: f\_\_Barnesiellaceae,2/tfive/c: g\_\_Alloprevotella,3/tsix/d: f\_\_Tannerellaceae,4/tone/e: g\_\_Desulfovibrio,5/tone/f: g\_\_Ileibacterium,6/tone/g: g\_\_Clostridia\_UCG\_014,7/tone/h: f\_\_Clostridia\_UCG\_014,8/tone/i: o\_\_Clostridia\_UCG\_014,9/tsix/j: g\_\_Clostridia\_vadinBB60\_group,10/tsix/k: f\_\_Clostridia\_vadinBB60\_group,11/tsix/l: o\_\_Clostridia\_vadinBB60\_group,12/tone/m: g\_\_\_Eubacterium\_\_coprostanoligenes\_group,13/tone/n: f\_\_\_Eubacterium\_\_coprostanoligenes\_group,14/tsix/o: Other,15/tsix/p: f\_\_Rickettsiaceae,16/tseven/q: g\_\_Treponema,17/tseven/r: f\_\_Spirochaetaceae,18/tseven/s: o\_\_Spirochaetales,19/tseven/t: c\_\_Spirochaetia,20/tsix/u: g\_\_WCHB1\_41,21/tsix/v: f\_\_WCHB1\_41,22/tsix/w: o\_\_WCHB1\_41,23/tsix/x: c\_\_Kiritimatiellae}{
  \draw[fill=\c,draw=edge,line width=1.2pt] (1564,87+24.74*\i) rectangle ++(26,13);
  \node[font=\djv\fs{6.2},text=black!85,anchor=west,inner sep=0pt] at (1597,93.5+24.74*\i) {\t};
}
% tiny clade letters and clade names in the cladogram
\foreach \xa/\ya/\t in {1229/65/a,1353/140/b,1280/121/c,1330/160/d,1101/83/e,966/138/f,877/257/g,850/244/h,823/232/i,872/268/j,843/258/k,816/247/l,1023/647/m,1012/675/n,1258/643/o,1272/670/p,1412/450/q,1440/465/r,1467/473/s,1497/481/t,1418/418/u,1448/422/v,1477/427/w,1506/431/x}{
  \node[font=\djv\fs{3},text=black!60!tfive,inner sep=0pt] at (\xa,\ya) {\t};
}
\node[font=\djv\fs{3.3},text=black!75,rotate=-85,inner sep=0pt] at (1535,422) {P\_\_Verrucomicrobiota};
\node[font=\djv\fs{3.3},text=purple!80!black,rotate=-76,inner sep=0pt] at (1519,500) {P\_\_Spirochaetota};

% C labels
\node[font=\wid\bfseries\fs{8.8},text=black!85,anchor=west,inner sep=0pt] at (443,955.5) {Group};
\node[font=\nrw\bfseries\fs{8.5},text=black!85] at (671.5,840) {Group};
\foreach \ya/\t in {869/T1,899/T5,929/T6,958.5/T7}{
  \node[font=\nrw\fs{9},text=black!85,anchor=west,inner sep=0pt] at (675,\ya) {\t};
}

% D legend and right-hand labels
\foreach \xa/\c/\t in {1091/tone/T1,1194/tfive/T5,1298/tsix/T6,1401/tseven/T7}{
  \fill[\c,rounded corners=5pt] (\xa,861.4) rectangle ++(55,22.2);
  \node[font=\nrw\fs{13},text=black!85,anchor=west,inner sep=0pt] at (\xa+68,872.5) {\t};
}
\foreach \ya/\t in {995/0.038,1133.2/0.032,1272/0.038,1410.6/0.032,1549/0.029,1687.6/0.039}{
  \node[font=\cnd\fs{10.5},text=black!85,inner sep=0pt] at (1801,\ya) {\t};
}
\node[font=\pvf\fs{16},text=black!85,rotate=-90,inner sep=0pt] at (1856,1318) {Pvalue};
\node[font=\cnd\fs{10.5},text=black!85,inner sep=0pt] at (845.6,1810) {0};
\node[font=\cnd\fs{10.5},text=black!85,inner sep=0pt] at (1705.8,1809) {42327};
\node[font=\nrw\fs{15},text=black!85,inner sep=0pt] at (1272,1829) {Mean proportion};
\end{scope}
\end{tikzpicture}
\end{document}
